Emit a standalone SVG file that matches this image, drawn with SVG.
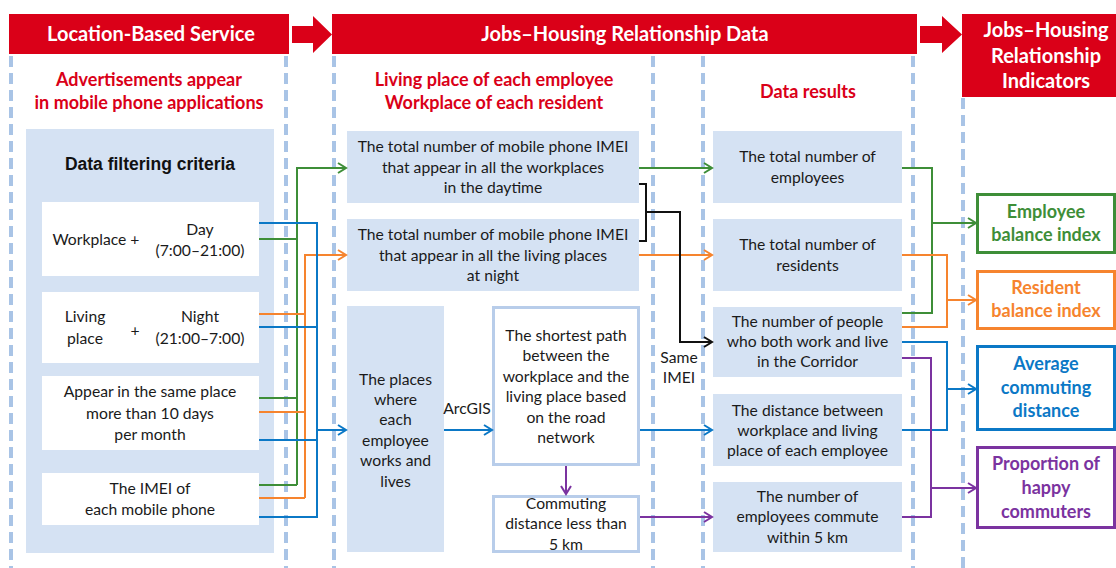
<svg xmlns="http://www.w3.org/2000/svg" width="1116" height="568" viewBox="0 0 1116 568">
<style>
.hdr{fill:#DA0018}
.ht{font-family:Lato,"Liberation Sans",sans-serif;font-weight:bold;font-size:20px;fill:#fff;text-anchor:middle}
.sub{font-family:Lato,"Liberation Sans",sans-serif;font-weight:bold;font-size:18px;fill:#DA0018;text-anchor:middle}
.dash{stroke:#A9C4E6;stroke-width:4;stroke-dasharray:11 6;fill:none}
.pb{fill:#D5E2F3}
.wb{fill:#fff}
.t{font-family:Lato,"Liberation Sans",sans-serif;font-size:15.7px;fill:#1a1a1a;text-anchor:middle}
.c{fill:none;stroke-width:2}
.g{stroke:#3E8E38}.o{stroke:#F6842E}.b{stroke:#0B78C6}.p{stroke:#7B33A0}.k{stroke:#111}
.ind{fill:#fff;stroke-width:3}
.it{font-family:Lato,"Liberation Sans",sans-serif;font-weight:bold;font-size:18px;text-anchor:middle}
</style>
<defs>
<marker id="ag" markerUnits="userSpaceOnUse" markerWidth="14" markerHeight="14" refX="10" refY="7" orient="auto"><path d="M2,2 L10,7 L2,12" fill="none" stroke="#3E8E38" stroke-width="2"/></marker>
<marker id="ao" markerUnits="userSpaceOnUse" markerWidth="14" markerHeight="14" refX="10" refY="7" orient="auto"><path d="M2,2 L10,7 L2,12" fill="none" stroke="#F6842E" stroke-width="2"/></marker>
<marker id="ab" markerUnits="userSpaceOnUse" markerWidth="14" markerHeight="14" refX="10" refY="7" orient="auto"><path d="M2,2 L10,7 L2,12" fill="none" stroke="#0B78C6" stroke-width="2"/></marker>
<marker id="ap" markerUnits="userSpaceOnUse" markerWidth="14" markerHeight="14" refX="10" refY="7" orient="auto"><path d="M2,2 L10,7 L2,12" fill="none" stroke="#7B33A0" stroke-width="2"/></marker>
<marker id="ak" markerUnits="userSpaceOnUse" markerWidth="14" markerHeight="14" refX="10" refY="7" orient="auto"><path d="M2,2 L10,7 L2,12" fill="none" stroke="#111" stroke-width="2"/></marker>
</defs>
<rect width="1116" height="568" fill="#fff"/>

<g id="dashes">
<line class="dash" x1="11" y1="56" x2="11" y2="568"/>
<line class="dash" x1="286" y1="56" x2="286" y2="568"/>
<line class="dash" x1="334" y1="56" x2="334" y2="568"/>
<line class="dash" x1="653" y1="56" x2="653" y2="568"/>
<line class="dash" x1="703" y1="56" x2="703" y2="568"/>
<line class="dash" x1="913" y1="56" x2="913" y2="568"/>
<line class="dash" x1="963" y1="98" x2="963" y2="568"/>
</g>

<g id="headers">
<rect class="hdr" x="9" y="14" width="280" height="40"/>
<text class="ht" x="151" y="41">Location-Based Service</text>
<path class="hdr" d="M292,26 H313 V16 L332,34.5 L313,53 V43 H292 Z"/>
<rect class="hdr" x="332" y="14" width="585" height="40"/>
<text class="ht" x="625" y="41">Jobs–Housing Relationship Data</text>
<path class="hdr" d="M920,26 H942 V16 L962,34.5 L942,53 V43 H920 Z"/>
<rect class="hdr" x="962" y="14" width="154" height="83"/>
<text class="ht" x="1046" y="37">Jobs–Housing</text>
<text class="ht" x="1046" y="63">Relationship</text>
<text class="ht" x="1046" y="88">Indicators</text>
</g>

<g id="subheaders">
<text class="sub" x="149" y="86">Advertisements appear</text>
<text class="sub" x="149" y="109">in mobile phone applications</text>
<text class="sub" x="494" y="86">Living place of each employee</text>
<text class="sub" x="494" y="109">Workplace of each resident</text>
<text class="sub" x="808" y="98">Data results</text>
</g>

<g id="filter-panel">
<rect class="pb" x="26" y="129" width="248" height="424"/>
<text x="150" y="170" font-family="'Liberation Sans',Arial,sans-serif" font-weight="bold" font-size="17.5" fill="#111" text-anchor="middle">Data filtering criteria</text>
</g>
<g id="crit-workplace">
<rect class="wb" x="42" y="202" width="217" height="74"/>
<text class="t" x="96" y="245">Workplace +</text>
<text class="t" x="200" y="235">Day</text>
<text class="t" x="200" y="256">(7:00–21:00)</text>
</g>
<g id="crit-living">
<rect class="wb" x="42" y="292" width="217" height="71"/>
<text class="t" x="85" y="322">Living</text>
<text class="t" x="85" y="344">place</text>
<text class="t" x="135" y="336">+</text>
<text class="t" x="200" y="322">Night</text>
<text class="t" x="200" y="344">(21:00–7:00)</text>
</g>
<g id="crit-days">
<rect class="wb" x="42" y="376" width="217" height="74"/>
<text class="t" x="150" y="397">Appear in the same place</text>
<text class="t" x="150" y="419">more than 10 days</text>
<text class="t" x="150" y="440">per month</text>
</g>
<g id="crit-imei">
<rect class="wb" x="42" y="473" width="217" height="52"/>
<text class="t" x="150" y="494">The IMEI of</text>
<text class="t" x="150" y="515">each mobile phone</text>
</g>

<g id="imei-work">
<rect class="pb" x="347" y="131" width="292" height="72"/>
<text class="t" x="493" y="152">The total number of mobile phone IMEI</text>
<text class="t" x="493" y="173">that appear in all the workplaces</text>
<text class="t" x="493" y="193">in the daytime</text>
</g>
<g id="imei-night">
<rect class="pb" x="347" y="219" width="292" height="72"/>
<text class="t" x="493" y="240">The total number of mobile phone IMEI</text>
<text class="t" x="493" y="261">that appear in all the living places</text>
<text class="t" x="493" y="281">at night</text>
</g>
<g id="places">
<rect class="pb" x="347" y="306" width="97" height="246"/>
<text class="t" x="395.5" y="385">The places</text>
<text class="t" x="395.5" y="405">where</text>
<text class="t" x="395.5" y="425">each</text>
<text class="t" x="395.5" y="446">employee</text>
<text class="t" x="395.5" y="466">works and</text>
<text class="t" x="395.5" y="487">lives</text>
</g>
<g id="shortest-path">
<rect x="493.5" y="307.5" width="145" height="157" fill="#fff" stroke="#B8CDEA" stroke-width="3"/>
<text class="t" x="566" y="341">The shortest path</text>
<text class="t" x="566" y="361">between the</text>
<text class="t" x="566" y="382">workplace and the</text>
<text class="t" x="566" y="402">living place based</text>
<text class="t" x="566" y="423">on the road</text>
<text class="t" x="566" y="443">network</text>
</g>
<g id="commute-5km">
<rect x="493.5" y="496.5" width="145" height="55" fill="#fff" stroke="#B8CDEA" stroke-width="3"/>
<text class="t" x="566" y="509">Commuting</text>
<text class="t" x="566" y="529">distance less than</text>
<text class="t" x="566" y="550">5 km</text>
</g>

<g id="res-employees">
<rect class="pb" x="713" y="131" width="189" height="72"/>
<text class="t" x="807.5" y="162">The total number of</text>
<text class="t" x="807.5" y="183">employees</text>
</g>
<g id="res-residents">
<rect class="pb" x="713" y="219" width="189" height="72"/>
<text class="t" x="807.5" y="250">The total number of</text>
<text class="t" x="807.5" y="271">residents</text>
</g>
<g id="res-both">
<rect class="pb" x="713" y="307" width="189" height="70"/>
<text class="t" x="807.5" y="327">The number of people</text>
<text class="t" x="807.5" y="347">who both work and live</text>
<text class="t" x="807.5" y="367">in the Corridor</text>
</g>
<g id="res-distance">
<rect class="pb" x="713" y="394" width="189" height="72"/>
<text class="t" x="807.5" y="416">The distance between</text>
<text class="t" x="807.5" y="436">workplace and living</text>
<text class="t" x="807.5" y="456">place of each employee</text>
</g>
<g id="res-5km">
<rect class="pb" x="713" y="482" width="189" height="70"/>
<text class="t" x="807.5" y="502">The number of</text>
<text class="t" x="807.5" y="522">employees commute</text>
<text class="t" x="807.5" y="543">within 5 km</text>
</g>

<g id="ind-employee">
<rect class="ind" x="977.5" y="194.5" width="137" height="58" stroke="#3E8E38"/>
<text class="it" x="1046" y="218" fill="#3E8E38">Employee</text>
<text class="it" x="1046" y="241" fill="#3E8E38">balance index</text>
</g>
<g id="ind-resident">
<rect class="ind" x="977.5" y="271.5" width="137" height="57" stroke="#F6842E"/>
<text class="it" x="1046" y="294" fill="#F6842E">Resident</text>
<text class="it" x="1046" y="317" fill="#F6842E">balance index</text>
</g>
<g id="ind-distance">
<rect class="ind" x="977.5" y="346.5" width="137" height="83" stroke="#0B78C6"/>
<text class="it" x="1046" y="370" fill="#0B78C6">Average</text>
<text class="it" x="1046" y="394" fill="#0B78C6">commuting</text>
<text class="it" x="1046" y="417" fill="#0B78C6">distance</text>
</g>
<g id="ind-happy">
<rect class="ind" x="977.5" y="447.5" width="137" height="80" stroke="#7B33A0"/>
<text class="it" x="1046" y="470" fill="#7B33A0">Proportion of</text>
<text class="it" x="1046" y="494" fill="#7B33A0">happy</text>
<text class="it" x="1046" y="518" fill="#7B33A0">commuters</text>
</g>

<g id="labels">
<text class="t" x="467" y="414">ArcGIS</text>
<text class="t" x="679" y="363">Same</text>
<text class="t" x="679" y="383">IMEI</text>
</g>

<g id="connectors">
<path class="c g" d="M259,239 H297 M259,398 H297 M259,485 H297"/>
<path class="c g" d="M297,485 V168 H346" marker-end="url(#ag)"/>
<path class="c o" d="M259,314 H305 M259,412 H305 M259,498 H305"/>
<path class="c o" d="M305,498 V255 H346" marker-end="url(#ao)"/>
<path class="c b" d="M259,223 H317 V517 H259 M259,327 H317 M259,440 H317"/>
<path class="c b" d="M317,430 H346" marker-end="url(#ab)"/>
<path class="c b" d="M444,430 H492" marker-end="url(#ab)"/>
<path class="c p" d="M566,466 V494" marker-end="url(#ap)"/>
<path class="c g" d="M639,168 H712" marker-end="url(#ag)"/>
<path class="c o" d="M639,255 H712" marker-end="url(#ao)"/>
<path class="c k" d="M639,184 H646 V241 H639 M646,212 H680 V342 H712" marker-end="url(#ak)"/>
<path class="c b" d="M640,430 H712" marker-end="url(#ab)"/>
<path class="c p" d="M640,517 H712" marker-end="url(#ap)"/>
<path class="c g" d="M902,168 H932 V313 H902 M932,223 H976" marker-end="url(#ag)"/>
<path class="c o" d="M902,255 H947 V327 H902 M947,300 H976" marker-end="url(#ao)"/>
<path class="c b" d="M902,342 H947 V430 H902 M947,389 H976" marker-end="url(#ab)"/>
<path class="c p" d="M902,358 H931 V517 H902 M931,488 H976" marker-end="url(#ap)"/>
</g>
</svg>
